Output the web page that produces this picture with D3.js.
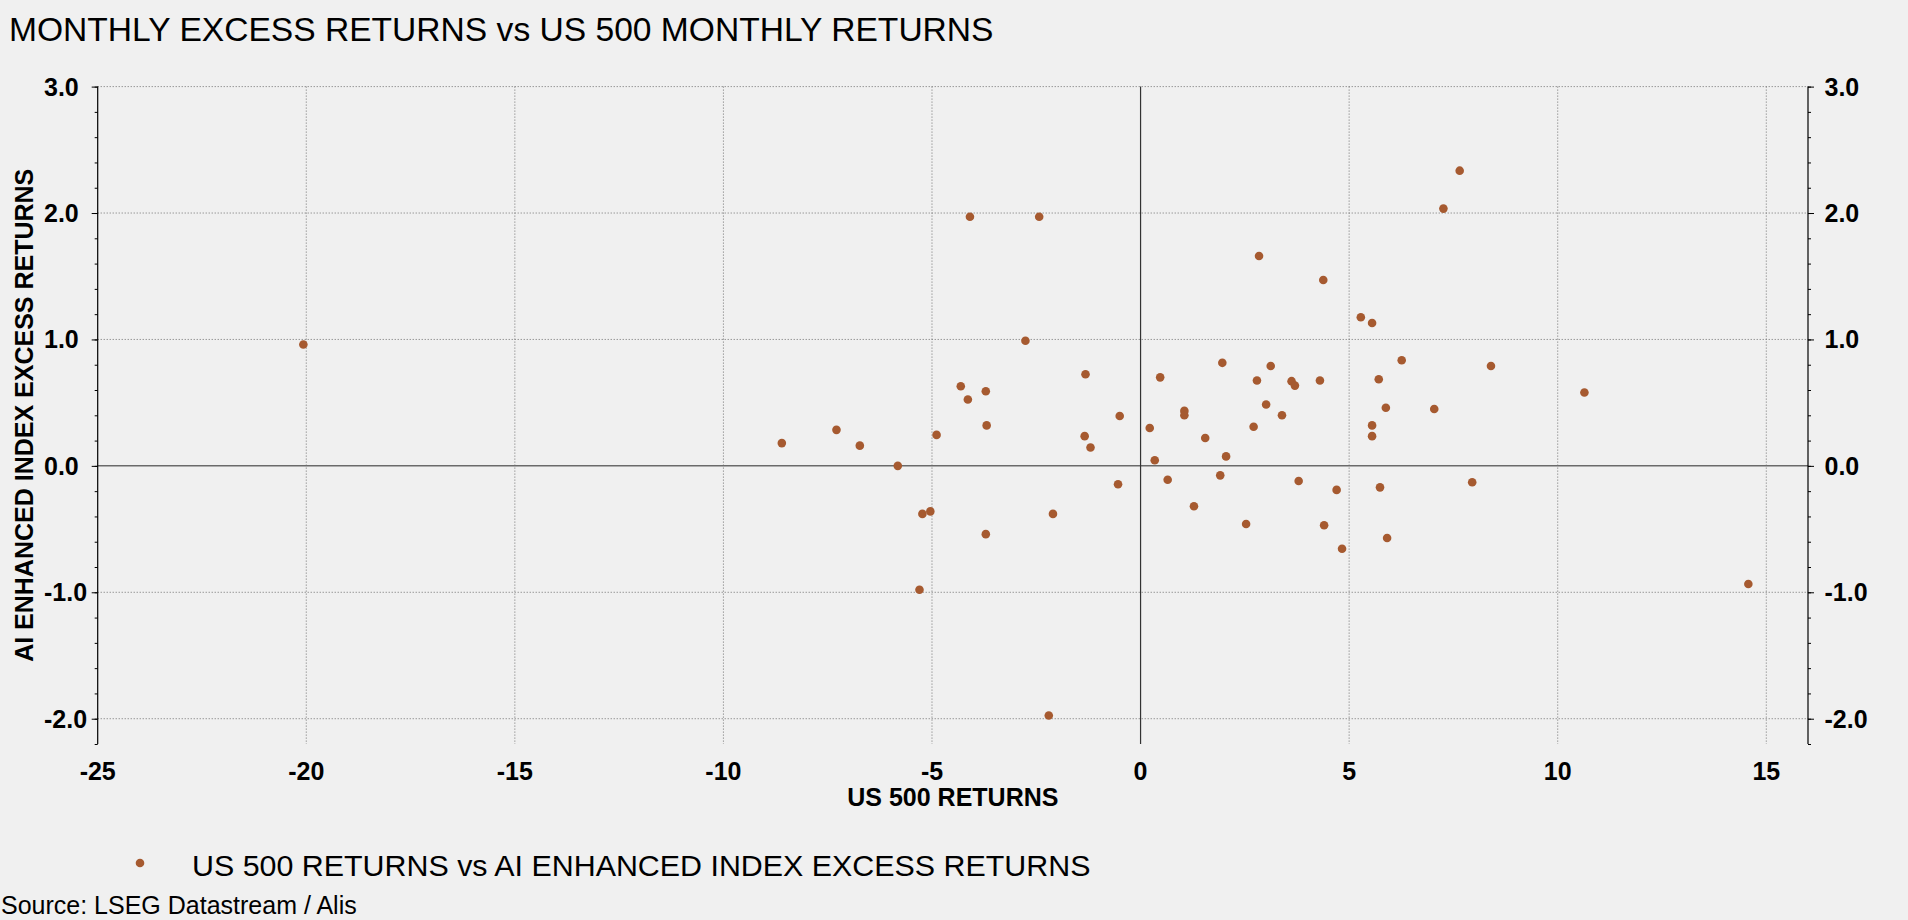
<!DOCTYPE html>
<html>
<head>
<meta charset="utf-8">
<script src="https://cdn.jsdelivr.net/npm/d3@7/dist/d3.min.js"></script>
<style>
  html, body { margin: 0; padding: 0; background: #f0f0f0; }
  svg { display: block; }
  text { font-family: "Liberation Sans", Arial, sans-serif; fill: #000; }
</style>
</head>
<body>
<svg id="chart" width="1908" height="920"></svg>
<script>
// ---- data ----
const usReturns = [
  -20.07, -8.60, -7.29, -6.73, -5.82, -5.30, -5.23, -5.04, -4.89, -4.31,
  -4.14, -4.09, -3.71, -3.69, -3.71, -2.76, -2.43, -2.20, -2.10, -1.34,
  -1.32, -1.20, -0.54, -0.50, 0.22, 0.34, 0.47, 0.65, 1.05, 1.05,
  1.28, 1.55, 1.91, 1.96, 2.05, 2.53, 2.71, 2.79, 2.84, 3.01,
  3.12, 3.39, 3.62, 3.70, 3.79, 4.30, 4.38, 4.40, 4.70, 4.83,
  5.28, 5.55, 5.55, 5.55, 5.71, 5.74, 5.88, 5.91, 6.26, 7.04,
  7.26, 7.65, 7.95, 8.40, 10.64, 14.57
];
const excessReturns = [
  0.96, 0.18, 0.285, 0.16, 0.00, -0.98, -0.38, -0.36, 0.245, 0.63,
  0.525, 1.97, 0.59, 0.32, -0.54, 0.99, 1.97, -1.975, -0.38, 0.235,
  0.725, 0.145, -0.145, 0.395, 0.30, 0.045, 0.70, -0.11, 0.435, 0.40,
  -0.32, 0.22, -0.075, 0.815, 0.075, -0.46, 0.31, 0.675, 1.66, 0.485,
  0.79, 0.40, 0.67, 0.635, -0.12, 0.675, 1.47, -0.47, -0.19, -0.655,
  1.175, 1.13, 0.32, 0.235, 0.685, -0.17, 0.46, -0.57, 0.835, 0.45,
  2.035, 2.335, -0.13, 0.79, 0.58, -0.935
];
const xTicks = [-25, -20, -15, -10, -5, 0, 5, 10, 15];
const yTicks = [-2, -1, 0, 1, 2, 3];
const yMinorTicks = d3.range(-22, 31, 2).map(d => d / 10);
const title = "MONTHLY EXCESS RETURNS vs US 500 MONTHLY RETURNS";
const xTitle = "US 500 RETURNS";
const yTitle = "AI ENHANCED INDEX EXCESS RETURNS";
const legendLabel = "US 500 RETURNS vs AI ENHANCED INDEX EXCESS RETURNS";
const source = "Source: LSEG Datastream / Alis";

const points = usReturns.map((x, i) => ({ x, y: excessReturns[i] }));

// ---- layout ----
const L = 97.7, R = 1808, T = 86.6, B = 744;
const dotColor = "#a65a30";
const svg = d3.select("#chart");

const x = d3.scaleLinear().domain([-25, 16]).range([L, R]);
const y = d3.scaleLinear().domain([-2.2, 3]).range([B, T]);

// title
svg.append("text").attr("x", 9).attr("y", 40.5)
  .style("font-size", "33.6px").text(title);

// gridlines
const grid = svg.append("g");
grid.selectAll("line.vg").data(xTicks.filter(d => d !== 0 && d !== -25)).join("line")
  .attr("x1", d => x(d)).attr("x2", d => x(d)).attr("y1", T).attr("y2", B)
  .attr("stroke", "#707070").attr("stroke-width", 1).attr("stroke-dasharray", "1,2");
grid.selectAll("line.hg").data(yTicks.filter(d => d !== 0)).join("line")
  .attr("x1", L).attr("x2", R).attr("y1", d => y(d)).attr("y2", d => y(d))
  .attr("stroke", "#707070").attr("stroke-width", 1).attr("stroke-dasharray", "1,2");

// zero lines
svg.append("line").attr("x1", L).attr("x2", R).attr("y1", y(0)).attr("y2", y(0))
  .attr("stroke", "#6a6a6a").attr("stroke-width", 1.5);
svg.append("line").attr("x1", x(0)).attr("x2", x(0)).attr("y1", T).attr("y2", B)
  .attr("stroke", "#333").attr("stroke-width", 1.2);

// left axis
const gl = svg.append("g").attr("transform", `translate(${L},0)`)
  .call(d3.axisLeft(y).tickValues(yMinorTicks).tickSize(3).tickFormat(""));
gl.select(".domain").remove();
gl.selectAll("line").attr("stroke", "#000");
const gl2 = svg.append("g").attr("transform", `translate(${L},0)`)
  .call(d3.axisLeft(y).tickValues(yTicks).tickSize(6).tickFormat(""));
gl2.select(".domain").remove();
gl2.selectAll("line").attr("stroke", "#000");
svg.append("line").attr("x1", L).attr("x2", L).attr("y1", T).attr("y2", B)
  .attr("stroke", "#000").attr("stroke-width", 1.2);

// right axis
const gr = svg.append("g").attr("transform", `translate(${R},0)`)
  .call(d3.axisRight(y).tickValues(yMinorTicks).tickSize(3).tickFormat(""));
gr.select(".domain").remove();
gr.selectAll("line").attr("stroke", "#000");
const gr2 = svg.append("g").attr("transform", `translate(${R},0)`)
  .call(d3.axisRight(y).tickValues(yTicks).tickSize(6).tickFormat(""));
gr2.select(".domain").remove();
gr2.selectAll("line").attr("stroke", "#000");
svg.append("line").attr("x1", R).attr("x2", R).attr("y1", T).attr("y2", B)
  .attr("stroke", "#000").attr("stroke-width", 1.2);

// y tick labels (hyphen minus as in the reference)
const fmt = d => d3.format(".1f")(d).replace("\u2212", "-");
svg.append("g").selectAll("text").data(yTicks).join("text")
  .attr("x", 44).attr("y", d => y(d)).attr("dy", "0.36em")
  .style("font-size", "25px").style("font-weight", "bold")
  .text(d => fmt(d));
svg.append("g").selectAll("text").data(yTicks).join("text")
  .attr("x", 1824.5).attr("y", d => y(d)).attr("dy", "0.36em")
  .style("font-size", "25px").style("font-weight", "bold")
  .text(d => fmt(d));

// x tick labels
svg.append("g").selectAll("text").data(xTicks).join("text")
  .attr("x", d => x(d)).attr("y", 780).attr("text-anchor", "middle")
  .style("font-size", "25px").style("font-weight", "bold")
  .text(d => String(d));

// axis titles
svg.append("text").attr("x", (L + R) / 2).attr("y", 805.5).attr("text-anchor", "middle")
  .style("font-size", "25px").style("font-weight", "bold").text(xTitle);
svg.append("text").attr("transform", `translate(32.5,${(T + B) / 2}) rotate(-90)`)
  .attr("text-anchor", "middle")
  .style("font-size", "25px").style("font-weight", "bold").text(yTitle);

// points
svg.append("g").selectAll("circle").data(points).join("circle")
  .attr("cx", d => x(d.x)).attr("cy", d => y(d.y)).attr("r", 4.3)
  .attr("fill", dotColor);

// legend
svg.append("circle").attr("cx", 140).attr("cy", 863).attr("r", 4.3).attr("fill", dotColor);
svg.append("text").attr("x", 192).attr("y", 876).style("font-size", "30.4px").text(legendLabel);

// source
svg.append("text").attr("x", 1).attr("y", 913.5).style("font-size", "25px").text(source);
</script>
</body>
</html>
